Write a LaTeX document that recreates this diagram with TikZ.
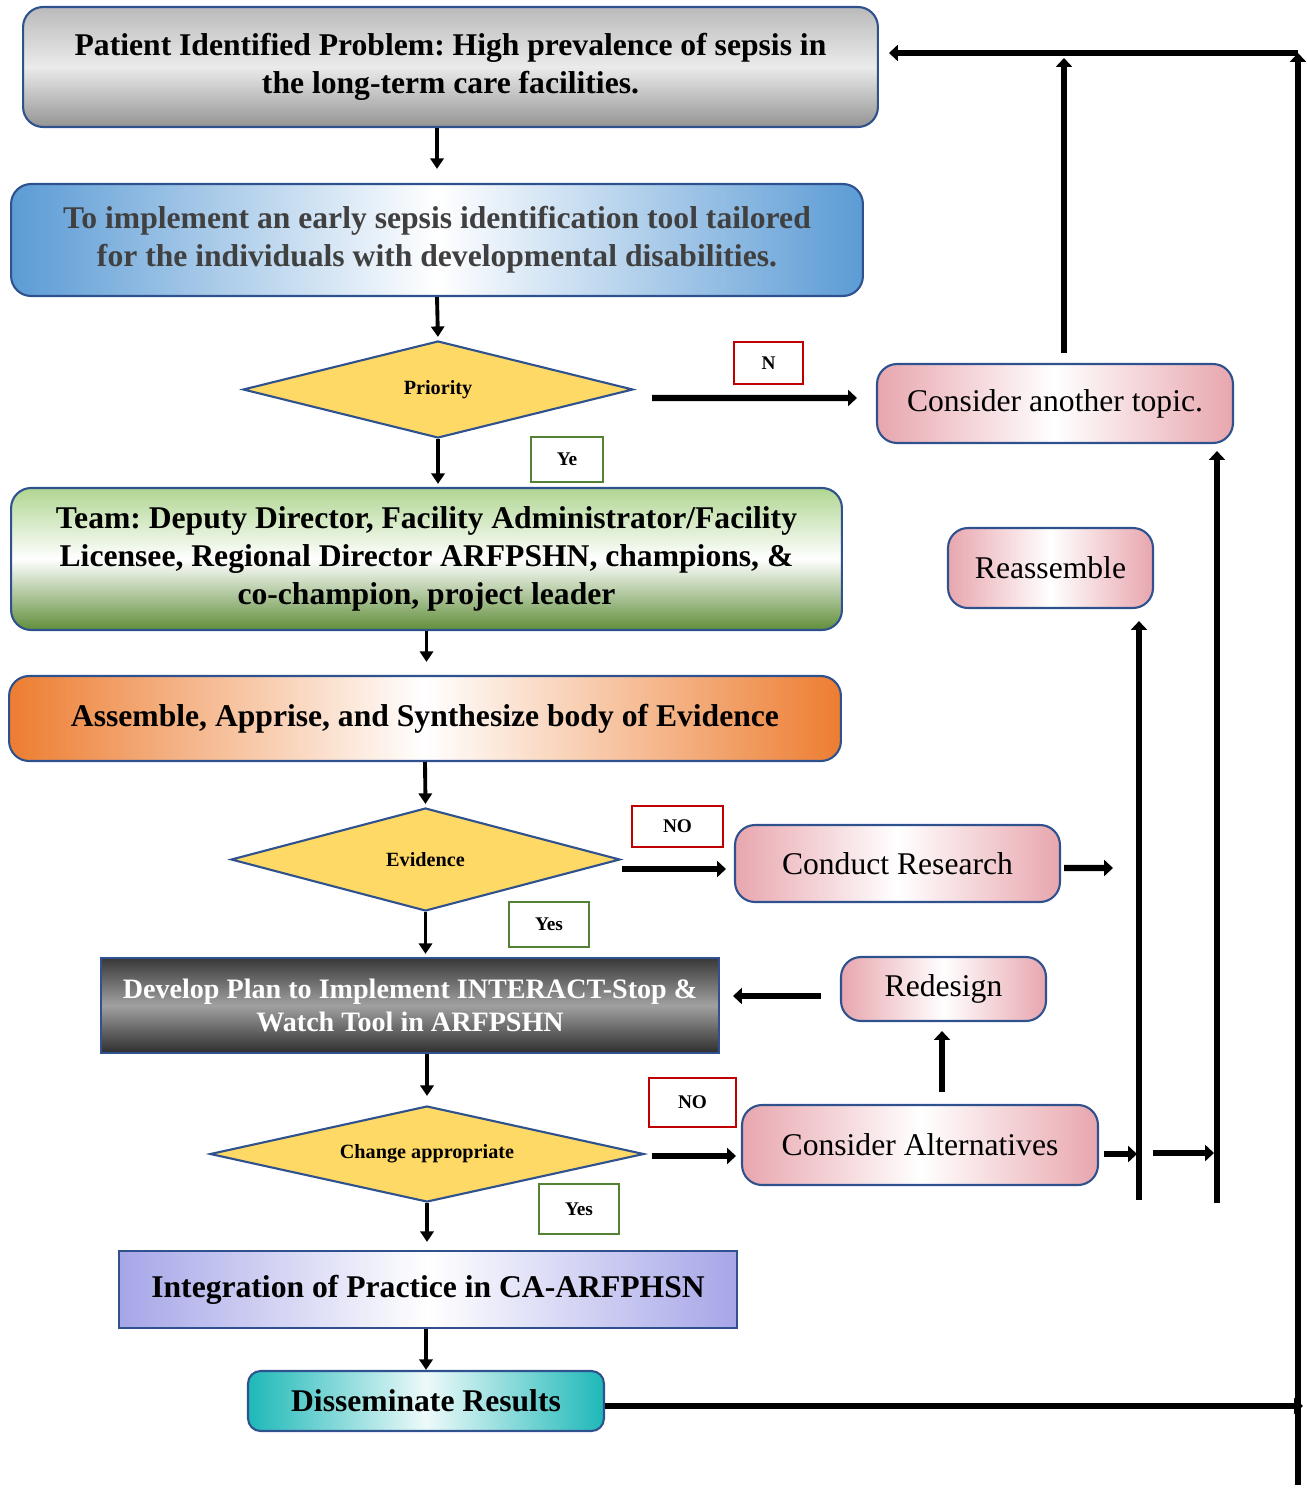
\documentclass[tikz,border=0pt]{standalone}
\usepackage{fontspec}
\setmainfont{Liberation Serif}
\frenchspacing
\usetikzlibrary{arrows.meta,shapes.geometric}
\definecolor{edgeblue}{RGB}{47,82,143}
\definecolor{gold}{RGB}{255,217,102}
\definecolor{rose}{RGB}{232,166,174}
\definecolor{labgreen}{RGB}{84,130,53}
\definecolor{labred}{RGB}{192,0,0}
\definecolor{skyblue}{RGB}{91,155,213}
\definecolor{leafgreen}{RGB}{96,142,58}
\definecolor{lightleaf}{RGB}{176,214,146}
\definecolor{peach}{RGB}{237,125,49}
\definecolor{lilac}{RGB}{166,166,232}
\definecolor{teal2}{RGB}{30,184,184}
\definecolor{textgray}{RGB}{64,64,64}

\begin{document}
\begin{tikzpicture}[
  x=0.02cm,y=-0.02cm,
  box/.style={draw=edgeblue,line width=1.2pt,rounded corners=0.4cm,align=center,inner sep=2pt,font=\fontsize{18}{21.6}\selectfont\bfseries},
  flat/.style={box,rounded corners=0pt},
  pinkbox/.style={draw=edgeblue,line width=1.2pt,rounded corners=0.4cm,align=center,left color=rose,right color=rose,middle color=white,font=\fontsize{18}{21.6}\selectfont},
  choice/.style={diamond,draw=edgeblue,line width=1.2pt,fill=gold,inner sep=0pt,font=\fontsize{11.5}{13}\selectfont\bfseries},
  yeslab/.style={draw=labgreen,line width=1.1pt,fill=white,font=\fontsize{11}{13}\selectfont\bfseries},
  nolab/.style={draw=labred,line width=1.1pt,fill=white,font=\fontsize{11}{13}\selectfont\bfseries},
  flow/.style={-{Triangle[length=6pt,width=7.5pt]},line width=2.2pt},
  fat/.style={-{Triangle[length=5pt,width=9pt]},line width=3.6pt}
]
\useasboundingbox (0,0) rectangle (1306,1490);
% main column
\node[box,top color=black!27,bottom color=black!42,middle color=black!8,minimum width=17.1cm,minimum height=2.4cm] (prob) at (450.5,67) {Patient Identified Problem: High prevalence of sepsis in\\ the long-term care facilities.};
\node[box,text=textgray,left color=skyblue,right color=skyblue,middle color=white,minimum width=17.04cm,minimum height=2.24cm] (aim) at (437,240) {To implement an early sepsis identification tool tailored\\ for the individuals with developmental disabilities.};
\node[choice,aspect=4,minimum width=7.8cm,minimum height=1.94cm] (prio) at (438,389.5) {Priority};
\node[box,top color=lightleaf,bottom color=leafgreen,middle color=white,minimum width=16.62cm,minimum height=2.84cm] (team) at (426.5,559) {Team: Deputy Director, Facility Administrator/Facility\\ Licensee, Regional Director ARFPSHN, champions, \&\\ co-champion, project leader};
\node[box,left color=peach,right color=peach,middle color=white,minimum width=16.64cm,minimum height=1.7cm] (assem) at (425,718.5) {Assemble, Apprise, and Synthesize body of Evidence};
\node[choice,aspect=3.8,minimum width=7.78cm,minimum height=2.06cm] (evid) at (425.5,859.5) {Evidence};
\node[flat,text=white,top color=black!78,bottom color=black!82,middle color=black!37,font=\fontsize{16}{18.8}\selectfont\bfseries,minimum width=12.36cm,minimum height=1.9cm] (plan) at (410,1005.5) {Develop Plan to Implement INTERACT-Stop \&\\ Watch Tool in ARFPSHN};
\node[choice,aspect=4.5,minimum width=8.68cm,minimum height=1.92cm] (chg) at (427,1154) {Change appropriate};
\node[flat,left color=lilac,right color=lilac,middle color=white,minimum width=12.36cm,minimum height=1.54cm] (integ) at (428,1289.5) {Integration of Practice in CA-ARFPHSN};
\node[box,rounded corners=0.25cm,left color=teal2,right color=teal2,middle color=teal2!8,minimum width=7.12cm,minimum height=1.2cm] (dissem) at (426,1401) {Disseminate Results};
% side boxes
\node[pinkbox,minimum width=7.12cm,minimum height=1.58cm] (another) at (1055,403.5) {Consider another topic.};
\node[pinkbox,minimum width=4.1cm,minimum height=1.6cm] (reass) at (1050.5,568) {Reassemble};
\node[pinkbox,minimum width=6.5cm,minimum height=1.54cm] (research) at (897.5,863.5) {Conduct Research};
\node[pinkbox,minimum width=4.1cm,minimum height=1.28cm] (redes) at (943.5,989) {Redesign};
\node[pinkbox,minimum width=7.12cm,minimum height=1.6cm] (alt) at (920,1145) {Consider Alternatives};
% answers
\node[nolab,minimum width=1.38cm,minimum height=0.84cm] (nprio) at (768.5,363) {N};
\node[yeslab,minimum width=1.44cm,minimum height=0.9cm] (yprio) at (567,459.5) {Ye};
\node[nolab,minimum width=1.82cm,minimum height=0.82cm] (nevid) at (677.5,826.5) {NO};
\node[yeslab,minimum width=1.6cm,minimum height=0.9cm] (yevid) at (549,924.5) {Yes};
\node[nolab,minimum width=1.74cm,minimum height=0.98cm] (nchg) at (692.5,1102.5) {NO};
\node[yeslab,minimum width=1.6cm,minimum height=1.0cm] (ychg) at (579,1209) {Yes};
% junctions
\coordinate (top) at (1298,53);
\coordinate (bot) at (1298,1485);
\coordinate (dend) at (1303,1406);
\coordinate (rsend) at (1113,868);
\coordinate (j1) at (1137,1154);
\coordinate (j2a) at (1153,1153);
\coordinate (j2b) at (1214,1153);
\coordinate (l1b) at (1139,1200);
\coordinate (l2b) at (1217,1203);
% flow
\draw[flow,shorten >=0.28cm] (prob.south -| aim.north) -- (aim.north);
\draw[flow,shorten >=0.06cm] (aim.south) -- (prio.north);
\draw[flow,shorten >=0.06cm] (prio.south) -- (prio.south |- team.north);
\draw[flow,shorten >=0.26cm] (team.south) -- (team.south |- assem.north);
\draw[flow,shorten >=0.06cm] (assem.south) -- (evid.north);
\draw[flow,shorten >=0.06cm] (evid.south) -- (evid.south |- plan.north);
\draw[flow,shorten >=0.18cm] (chg.north |- plan.south) -- (chg.north);
\draw[flow,shorten >=0.16cm] (chg.south) -- (chg.south |- integ.north);
\draw[flow] (dissem.north |- integ.south) -- (dissem.north);
% loops
\draw[fat] ([shift={(18,8.5)}]prio.east) -- ([shift={(-19,-5.5)}]another.west);
\draw[fat,shorten >=0.1cm] ([shift={(9,-10)}]another.north) -- ([shift={(9,0)}]another.north |- top);
\draw[fat] (bot) -- (top);
\draw[fat] (top) -- ([shift={(10,-14)}]prob.east);
\draw[fat] ([shift={(0,5)}]dissem.east) -- (dend);
\draw[fat] ([shift={(1,9.5)}]evid.east) -- ([shift={(-8,5.5)}]research.west);
\draw[fat] ([shift={(3,4.5)}]research.east) -- (rsend);
\draw[fat] ([shift={(-19,7)}]redes.west) -- ([shift={(13,-9.5)}]plan.east);
\draw[fat] ([shift={(22,-12)}]alt.north) -- ([shift={(-1.5,9)}]redes.south);
\draw[fat] ([shift={(7,2)}]chg.east) -- ([shift={(-5,11)}]alt.west);
\draw[fat] ([shift={(5,9)}]alt.east) -- (j1);
\draw[fat] (j2a) -- (j2b);
\draw[fat,shorten >=0.24cm] (l1b) -- (l1b |- reass.south);
\draw[fat,shorten >=0.14cm] (l2b) -- (l2b |- another.south);
\end{tikzpicture}
\end{document}
